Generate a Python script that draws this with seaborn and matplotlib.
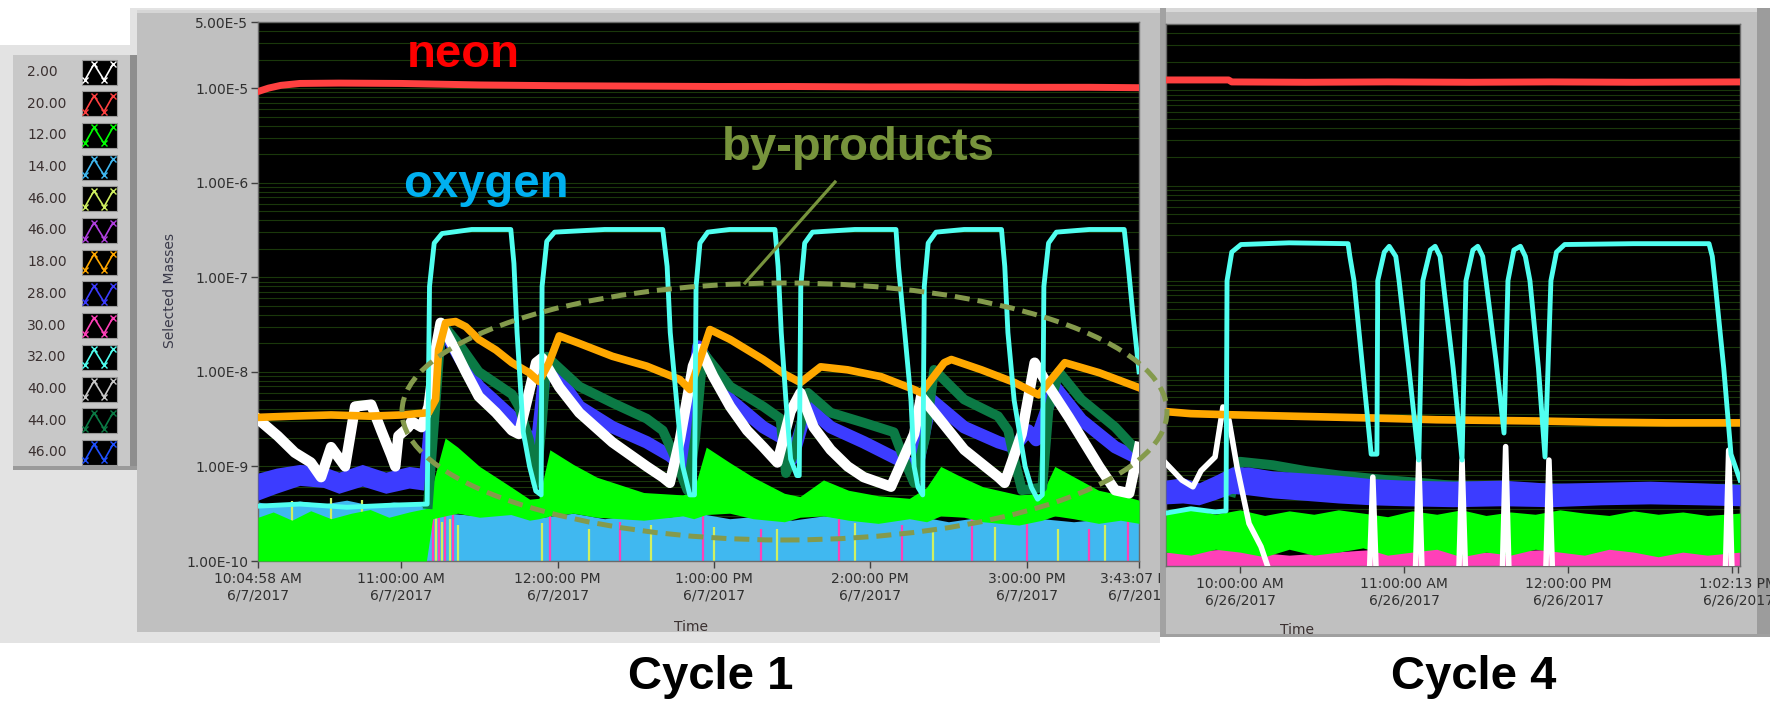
#recreates the LabVIEW mass-spec screenshot: cycle 1 vs cycle 4 traces

import matplotlib
matplotlib.use("Agg")
import matplotlib.pyplot as plt
from matplotlib.patches import Rectangle, Ellipse
from matplotlib.lines import Line2D
from matplotlib.ticker import LogLocator, NullFormatter
import seaborn as sns

#legend entries (mass numbers) and trace colours
legend_labels = ['2.00', '20.00', '12.00', '14.00', '46.00', '46.00', '18.00',
                 '28.00', '30.00', '32.00', '40.00', '44.00', '46.00']
legend_colors = ['#FFFFFF', '#FF4040', '#00FF00', '#40B8F0', '#D0F060', '#B040E0', '#FFA800',
                 '#3C3CFF', '#FF40B8', '#50FFF0', '#C8C8C8', '#0B7A45', '#2050FF']

#axis ticks
ytick_vals = [5e-5, 1e-5, 1e-6, 1e-7, 1e-8, 1e-9, 1e-10]
ytick_labels = ['5.00E-5', '1.00E-5', '1.00E-6', '1.00E-7', '1.00E-8', '1.00E-9', '1.00E-10']

c1_xlim = (10.0828, 15.7186)
c1_xticks = [10.0828, 11, 12, 13, 14, 15, 15.7186]
c1_xticklabels = ['10:04:58 AM\n6/7/2017', '11:00:00 AM\n6/7/2017', '12:00:00 PM\n6/7/2017',
                  '1:00:00 PM\n6/7/2017', '2:00:00 PM\n6/7/2017', '3:00:00 PM\n6/7/2017',
                  '3:43:07 PM\n6/7/2017']

c2_xlim = (9.5488, 13.049)
c2_xticks = [10, 11, 12, 13.0, 13.0369]
c2_xticklabels = ['10:00:00 AM\n6/26/2017', '11:00:00 AM\n6/26/2017', '12:00:00 PM\n6/26/2017',
                  '', '1:02:13 PM\n6/26/2017']

# ---------------- cycle 1 (6/7/2017), time in hours ----------------
c1_neon_t = [10.083, 10.15, 10.23, 10.35, 10.6, 11.0, 11.5, 12.0, 12.5, 13.0, 13.5, 14.0, 14.5, 15.0, 15.4, 15.719]
c1_neon = [9.2e-6, 1.0e-5, 1.07e-5, 1.12e-5, 1.13e-5, 1.12e-5, 1.08e-5, 1.06e-5, 1.05e-5, 1.04e-5,
           1.04e-5, 1.03e-5, 1.03e-5, 1.02e-5, 1.02e-5, 1.01e-5]

c1_cyan_t = [10.083, 10.35, 10.65, 10.95, 11.165, 11.18, 11.21, 11.26, 11.45, 11.70, 11.72, 11.74,
             11.78, 11.82, 11.86, 11.894, 11.90, 11.93, 11.98, 12.30, 12.672, 12.70, 12.72, 12.76,
             12.80, 12.845, 12.875, 12.885, 12.91, 12.96, 13.10, 13.39, 13.41, 13.43, 13.46, 13.49,
             13.53, 13.545, 13.555, 13.58, 13.63, 13.90, 14.164, 14.18, 14.22, 14.26, 14.28, 14.305,
             14.335, 14.345, 14.37, 14.42, 14.60, 14.839, 14.86, 14.88, 14.92, 14.99, 15.03, 15.07,
             15.10, 15.11, 15.14, 15.19, 15.40, 15.624, 15.65, 15.68, 15.719]
c1_cyan = [3.8e-10, 4.0e-10, 3.7e-10, 3.9e-10, 4.0e-10, 8e-8, 2.3e-7, 2.9e-7, 3.2e-7, 3.2e-7, 1.4e-7, 2.6e-8,
           2.3e-9, 1.0e-9, 5.5e-10, 5e-10, 8e-8, 2.4e-7, 3.0e-7, 3.2e-7, 3.2e-7, 1.3e-7, 2.6e-8, 5e-9,
           1.0e-9, 5e-10, 5e-10, 8e-8, 2.3e-7, 3.0e-7, 3.2e-7, 3.2e-7, 1.3e-7, 2.6e-8, 5e-9, 1.2e-9,
           8e-10, 8e-10, 8e-8, 2.3e-7, 3.0e-7, 3.2e-7, 3.2e-7, 1.3e-7, 2.6e-8, 5e-9, 1.0e-9, 6e-10,
           5e-10, 8e-8, 2.3e-7, 3.0e-7, 3.2e-7, 3.2e-7, 1.3e-7, 2.6e-8, 5e-9, 1.0e-9, 6e-10, 4.5e-10,
           5e-10, 8e-8, 2.3e-7, 3.0e-7, 3.2e-7, 3.2e-7, 1.3e-7, 4e-8, 1.0e-8]

c1_orange_t = [10.083, 10.3, 10.55, 10.8, 11.0, 11.174, 11.219, 11.238, 11.283, 11.347, 11.412, 11.495,
               11.605, 11.707, 11.817, 11.881, 11.945, 12.010, 12.138, 12.350, 12.569, 12.781, 12.846,
               12.910, 12.974, 13.103, 13.315, 13.45, 13.553, 13.682, 13.855, 14.068, 14.280, 14.325,
               14.473, 14.518, 14.711, 14.923, 15.077, 15.244, 15.463, 15.719]
c1_orange = [3.3e-9, 3.4e-9, 3.5e-9, 3.4e-9, 3.5e-9, 3.7e-9, 5.1e-9, 1.7e-8, 3.3e-8, 3.4e-8, 3.0e-8, 2.2e-8,
             1.7e-8, 1.25e-8, 9.8e-9, 7.9e-9, 1.25e-8, 2.4e-8, 2.0e-8, 1.46e-8, 1.15e-8, 8.3e-9, 6.5e-9,
             1.35e-8, 2.8e-8, 2.2e-8, 1.35e-8, 9.5e-9, 7.7e-9, 1.13e-8, 1.05e-8, 8.9e-9, 6.5e-9, 6.0e-9,
             1.25e-8, 1.35e-8, 1.05e-8, 7.7e-9, 5.7e-9, 1.25e-8, 9.8e-9, 6.8e-9]

c1_white_t = [10.089, 10.209, 10.318, 10.421, 10.486, 10.550, 10.640, 10.704, 10.807, 10.871, 10.936,
              10.961, 10.981, 11.045, 11.064, 11.129, 11.174, 11.219, 11.251, 11.322, 11.412, 11.495,
              11.605, 11.707, 11.752, 11.862, 11.900, 12.010, 12.138, 12.350, 12.569, 12.672, 12.717,
              12.781, 12.865, 12.910, 12.994, 13.103, 13.212, 13.315, 13.405, 13.489, 13.553, 13.637,
              13.746, 13.855, 13.958, 14.132, 14.280, 14.325, 14.434, 14.601, 14.820, 14.859, 14.968,
              15.051, 15.141, 15.270, 15.463, 15.566, 15.656, 15.719]
c1_white = [3.1e-9, 2.1e-9, 1.4e-9, 1.1e-9, 7.7e-10, 1.6e-9, 1.0e-9, 4.3e-9, 4.5e-9, 2.4e-9, 1.3e-9,
            1.0e-9, 2.1e-9, 2.6e-9, 3.0e-9, 2.6e-9, 4.3e-9, 1.7e-8, 3.3e-8, 2.0e-8, 1.0e-8, 5.5e-9,
            3.7e-9, 2.4e-9, 2.2e-9, 1.25e-8, 1.4e-8, 6.9e-9, 3.7e-9, 1.8e-9, 1.0e-9, 7.7e-10, 6.7e-10,
            1.9e-9, 1.15e-8, 1.75e-8, 9e-9, 4.3e-9, 2.4e-9, 1.6e-9, 1.1e-9, 3.8e-9, 6e-9, 2.6e-9,
            1.5e-9, 1.0e-9, 7.7e-10, 6.1e-10, 2.2e-9, 5.5e-9, 3.3e-9, 1.5e-9, 7.7e-10, 6.7e-10, 2.2e-9,
            1.25e-8, 7e-9, 3.3e-9, 1.0e-9, 5.6e-10, 5.2e-10, 1.6e-9]

c1_blue_t = [11.15, 11.17, 11.22, 11.257, 11.38, 11.495, 11.707, 11.80, 11.862, 11.926, 12.138, 12.35,
             12.569, 12.717, 12.80, 12.90, 13.103, 13.315, 13.46, 13.50, 13.598, 13.746, 13.958, 14.17,
             14.30, 14.389, 14.60, 14.82, 14.92, 15.01, 15.06, 15.18, 15.35, 15.566, 15.719]
c1_blue = [7e-10, 1.5e-9, 1.2e-8, 3.0e-8, 1.35e-8, 7e-9, 3.35e-9, 2.2e-9, 1.4e-9, 1.35e-8, 4.3e-9, 2.6e-9,
           1.8e-9, 1.3e-9, 1.0e-9, 1.85e-8, 5.1e-9, 2.6e-9, 1.9e-9, 1.2e-9, 4.3e-9, 2.6e-9, 1.8e-9, 1.2e-9,
           1.0e-9, 5.1e-9, 2.6e-9, 1.8e-9, 1.6e-9, 2.4e-9, 1.9e-9, 7e-9, 3.1e-9, 1.6e-9, 1.2e-9]

#blue noise band before the first cycle
c1_bluepre_t = [10.083, 10.2, 10.35, 10.5, 10.6, 10.75, 10.9, 11.05, 11.15]
c1_bluepre_hi = [8.5e-10, 9.6e-10, 1.05e-9, 1.0e-9, 8.7e-10, 1.05e-9, 8.7e-10, 1.0e-9, 9.5e-10]
c1_bluepre_lo = [4.4e-10, 5.2e-10, 6.3e-10, 6.0e-10, 5.2e-10, 6.2e-10, 5.2e-10, 5.9e-10, 5.6e-10]

c1_dgreen_t = [11.17, 11.22, 11.257, 11.38, 11.495, 11.707, 11.752, 11.817, 11.862, 11.90, 11.93, 12.138,
               12.35, 12.569, 12.672, 12.737, 12.83, 12.88, 12.929, 13.103, 13.315, 13.425, 13.46, 13.52,
               13.60, 13.746, 13.958, 14.15, 14.215, 14.28, 14.35, 14.408, 14.60, 14.817, 14.882, 14.92,
               14.97, 15.10, 15.14, 15.206, 15.35, 15.566, 15.656, 15.719]
c1_dgreen = [4e-10, 5e-9, 3.3e-8, 1.85e-8, 1.0e-8, 5.8e-9, 4.3e-9, 1.9e-9, 6.7e-10, 3e-9, 1.45e-8, 7e-9,
             4.7e-9, 3.2e-9, 2.4e-9, 1.4e-9, 5.6e-10, 2e-9, 1.6e-8, 7e-9, 4.3e-9, 3.2e-9, 8.5e-10, 1.5e-9,
             6e-9, 3.7e-9, 2.9e-9, 2.3e-9, 1.2e-9, 6.7e-10, 2e-9, 1.05e-8, 5.1e-9, 3.4e-9, 2.4e-9, 1.2e-9,
             5.6e-10, 6e-10, 4e-9, 1.0e-8, 5.1e-9, 2.6e-9, 1.8e-9, 1.4e-9]

#noise floor bands (lower / upper edge)
c1_lb_t = [10.083, 10.2, 10.35, 10.5, 10.65, 10.8, 10.95, 11.1, 11.17, 11.3, 11.5, 11.7, 11.9, 12.1, 12.3,
           12.5, 12.7, 12.9, 13.1, 13.3, 13.5, 13.7, 13.9, 14.1, 14.3, 14.5, 14.7, 14.9, 15.1, 15.3, 15.5, 15.719]
c1_lb_top = [4.2e-10, 3.9e-10, 4.3e-10, 4.0e-10, 4.4e-10, 3.9e-10, 4.2e-10, 4.0e-10, 3.6e-10, 3.2e-10,
             3.0e-10, 3.3e-10, 2.9e-10, 3.2e-10, 2.8e-10, 3.1e-10, 2.9e-10, 3.2e-10, 2.8e-10, 3.0e-10,
             2.7e-10, 3.0e-10, 2.8e-10, 2.7e-10, 3.0e-10, 2.6e-10, 2.9e-10, 2.7e-10, 2.8e-10, 2.6e-10,
             2.8e-10, 2.7e-10]

c1_green_t = [10.083, 10.18, 10.3, 10.42, 10.55, 10.68, 10.8, 10.92, 11.05, 11.16, 11.20, 11.28, 11.36,
              11.50, 11.70, 11.82, 11.88, 11.95, 12.10, 12.25, 12.55, 12.80, 12.87, 12.95, 13.10, 13.25,
              13.45, 13.55, 13.70, 13.86, 14.05, 14.25, 14.36, 14.45, 14.60, 14.72, 14.95, 15.10, 15.18,
              15.30, 15.46, 15.60, 15.719]
c1_green_lo = [1e-10, 1e-10, 1e-10, 1e-10, 1e-10, 1e-10, 1e-10, 1e-10, 1e-10, 1e-10, 2.8e-10, 3.0e-10,
               3.2e-10, 2.9e-10, 3.1e-10, 2.7e-10, 2.8e-10, 3.0e-10, 3.2e-10, 2.9e-10, 2.7e-10, 3.0e-10,
               2.8e-10, 3.1e-10, 3.2e-10, 2.8e-10, 2.6e-10, 2.9e-10, 3.0e-10, 2.7e-10, 2.5e-10, 2.8e-10,
               2.6e-10, 3.0e-10, 2.9e-10, 2.6e-10, 2.4e-10, 2.7e-10, 3.0e-10, 2.8e-10, 2.5e-10, 2.7e-10, 2.5e-10]
c1_green_hi = [2.9e-10, 3.3e-10, 2.7e-10, 3.4e-10, 2.8e-10, 3.2e-10, 3.5e-10, 2.9e-10, 3.3e-10, 3.6e-10,
               6.5e-10, 2.0e-9, 1.6e-9, 1.0e-9, 6.1e-10, 4.5e-10, 4.6e-10, 1.5e-9, 1.05e-9, 7.7e-10,
               5.3e-10, 5.0e-10, 5.5e-10, 1.6e-9, 1.1e-9, 7.7e-10, 5.2e-10, 4.8e-10, 7.2e-10, 5.6e-10,
               4.9e-10, 4.6e-10, 6.0e-10, 1.0e-9, 7.5e-10, 6.1e-10, 5.0e-10, 5.2e-10, 1.0e-9, 7.8e-10,
               5.6e-10, 5.0e-10, 4.4e-10]

#scattered specks near the floor
c1_pink_t = [11.20, 11.24, 11.28, 11.33, 11.95, 12.40, 12.93, 13.30, 13.80, 14.20, 14.65, 15.00, 15.40, 15.65]
c1_pink_top = [6.5e-10, 6.0e-10, 5.5e-10, 4.5e-10, 3.2e-10, 2.6e-10, 3.4e-10, 2.2e-10, 2.8e-10, 2.4e-10,
               3.0e-10, 2.5e-10, 2.2e-10, 2.7e-10]
c1_yellow_t = [10.3, 10.55, 10.75, 11.22, 11.26, 11.31, 11.36, 11.9, 12.2, 12.6, 13.0, 13.4, 13.9, 14.4,
               14.8, 15.2, 15.5]
c1_yellow_top = [4.3e-10, 4.6e-10, 4.4e-10, 3.0e-10, 2.6e-10, 2.8e-10, 2.4e-10, 2.5e-10, 2.2e-10, 2.4e-10,
                 2.3e-10, 2.2e-10, 2.5e-10, 2.1e-10, 2.3e-10, 2.2e-10, 2.4e-10]

# ---------------- cycle 4 (6/26/2017) ----------------
c2_neon_t = [9.549, 9.93, 9.95, 10.4, 10.9, 11.4, 11.9, 12.4, 13.049]
c2_neon = [1.29e-5, 1.29e-5, 1.23e-5, 1.22e-5, 1.23e-5, 1.22e-5, 1.23e-5, 1.22e-5, 1.23e-5]

c2_cyan_t = [9.549, 9.70, 9.85, 9.915, 9.921, 9.95, 10.006, 10.3, 10.659, 10.67, 10.695, 10.75, 10.80,
             10.835, 10.84, 10.88, 10.91, 10.95, 10.97, 11.03, 11.09, 11.115, 11.16, 11.19, 11.22, 11.238,
             11.30, 11.354, 11.378, 11.42, 11.45, 11.48, 11.50, 11.56, 11.61, 11.634, 11.67, 11.71, 11.74,
             11.768, 11.82, 11.86, 11.896, 11.93, 11.98, 12.4, 12.86, 12.88, 12.896, 12.95, 12.994, 13.049]
c2_cyan = [3.6e-10, 4.0e-10, 3.7e-10, 3.8e-10, 1e-7, 2.0e-7, 2.4e-7, 2.5e-7, 2.45e-7, 1.8e-7, 1e-7, 1.1e-8,
           1.5e-9, 1.5e-9, 1e-7, 2.0e-7, 2.3e-7, 1.8e-7, 1e-7, 1.2e-8, 1.3e-9, 1e-7, 2.1e-7, 2.3e-7, 1.8e-7,
           1e-7, 1.2e-8, 1.3e-9, 1e-7, 2.1e-7, 2.3e-7, 1.8e-7, 1e-7, 1.5e-8, 2.5e-9, 1e-7, 2.1e-7, 2.3e-7,
           1.8e-7, 1e-7, 1.2e-8, 1.4e-9, 1e-7, 2.0e-7, 2.4e-7, 2.45e-7, 2.45e-7, 1.8e-7, 1e-7, 1.2e-8,
           1.5e-9, 8e-10]

c2_orange_t = [9.549, 9.70, 9.92, 10.2, 10.5, 10.8, 11.2, 11.5, 11.8, 12.2, 12.6, 13.049]
c2_orange = [4.2e-9, 4.0e-9, 3.9e-9, 3.8e-9, 3.7e-9, 3.6e-9, 3.45e-9, 3.4e-9, 3.35e-9, 3.25e-9, 3.2e-9, 3.2e-9]

c2_white_t = [9.549, 9.646, 9.713, 9.762, 9.848, 9.896, 9.933, 9.982, 10.055, 10.128, 10.177, 10.5, 10.79,
              10.81, 10.83, 11.07, 11.09, 11.11, 11.335, 11.354, 11.375, 11.60, 11.62, 11.64, 11.865, 11.884,
              11.905, 12.96, 12.98, 13.00, 13.049]
c2_white = [1.2e-9, 8e-10, 6.8e-10, 1.0e-9, 1.4e-9, 4.7e-9, 3.4e-9, 1.1e-9, 2.8e-10, 1.6e-10, 9e-11, 9e-11,
            9e-11, 8.6e-10, 9e-11, 9e-11, 1.3e-9, 9e-11, 9e-11, 1.3e-9, 9e-11, 9e-11, 1.8e-9, 9e-11, 9e-11,
            1.3e-9, 9e-11, 9e-11, 1.65e-9, 9e-11, 9e-11]

c2_dgreen_t = [9.95, 10.0, 10.2, 10.4, 10.6, 10.9, 11.3, 12.0, 13.049]
c2_dgreen = [6e-10, 1.25e-9, 1.15e-9, 1.0e-9, 9e-10, 8e-10, 7e-10, 6.5e-10, 6.5e-10]

c2_blue_t = [9.549, 9.65, 9.75, 9.85, 9.95, 10.05, 10.2, 10.4, 10.6, 10.8, 11.0, 11.3, 11.6, 11.9, 12.2,
             12.5, 12.8, 13.049]
c2_blue_hi = [8.0e-10, 8.5e-10, 7.5e-10, 9.0e-10, 1.1e-9, 1.1e-9, 1.0e-9, 9.5e-10, 9.0e-10, 8.3e-10, 8.0e-10,
              7.8e-10, 8.0e-10, 7.4e-10, 7.6e-10, 7.8e-10, 7.5e-10, 7.2e-10]
c2_blue_lo = [4.5e-10, 4.6e-10, 4.4e-10, 5.0e-10, 5.8e-10, 5.6e-10, 5.2e-10, 4.9e-10, 4.6e-10, 4.4e-10, 4.3e-10,
              4.2e-10, 4.3e-10, 4.2e-10, 4.4e-10, 4.5e-10, 4.4e-10, 4.3e-10]

c2_green_t = [9.549, 9.7, 9.85, 10.0, 10.15, 10.3, 10.45, 10.6, 10.75, 10.9, 11.05, 11.2, 11.35, 11.5, 11.65,
              11.8, 11.95, 12.1, 12.25, 12.4, 12.55, 12.7, 12.85, 13.049]
c2_green_hi = [3.6e-10, 4.0e-10, 3.5e-10, 3.9e-10, 3.4e-10, 3.8e-10, 3.5e-10, 3.9e-10, 3.6e-10, 3.3e-10,
               3.8e-10, 3.5e-10, 3.9e-10, 3.4e-10, 3.7e-10, 3.5e-10, 3.9e-10, 3.6e-10, 3.4e-10, 3.8e-10,
               3.5e-10, 3.7e-10, 3.4e-10, 3.6e-10]
c2_green_lo = [1.4e-10, 1.3e-10, 1.5e-10, 1.4e-10, 1.25e-10, 1.5e-10, 1.3e-10, 1.4e-10, 1.55e-10, 1.3e-10,
               1.4e-10, 1.5e-10, 1.25e-10, 1.4e-10, 1.3e-10, 1.5e-10, 1.4e-10, 1.3e-10, 1.5e-10, 1.4e-10,
               1.25e-10, 1.4e-10, 1.3e-10, 1.4e-10]

c2_pink_t = [9.549, 9.9, 10.3, 10.7, 11.1, 11.5, 11.9, 12.3, 12.7, 13.049]
c2_pink_hi = [1.4e-10, 1.5e-10, 1.3e-10, 1.45e-10, 1.6e-10, 1.4e-10, 1.5e-10, 1.65e-10, 1.45e-10, 1.5e-10]

#figure size in pixels
W, H = 1770, 703

plt.rcParams['font.family'] = ['DejaVu Sans']

#pixel box (left, top, right, bottom) -> figure fraction rect
def box(x0, y0, x1, y1):
    return [x0 / W, 1 - y1 / H, (x1 - x0) / W, (y1 - y0) / H]

def add_rect(fig, x0, y0, x1, y1, color, z):
    l, b, w, h = box(x0, y0, x1, y1)
    fig.add_artist(Rectangle((l, b), w, h, transform=fig.transFigure,
                             facecolor=color, edgecolor='none', zorder=z))

#draws one trace with seaborn
def trace(ax, t, v, color, lw, z):
    sns.lineplot(x=t, y=v, ax=ax, color=color, linewidth=lw, estimator=None,
                 sort=False, zorder=z, solid_joinstyle='round')

#black LabVIEW-style graph area
def style_graph(ax, xlim, xticks, xlabels, show_y):
    ax.set_facecolor('black')
    ax.set_yscale('log')
    ax.set_ylim(1e-10, 5e-5)
    ax.set_xlim(*xlim)
    ax.set_yticks(ytick_vals)
    if show_y:
        ax.set_yticklabels(ytick_labels)
    else:
        ax.set_yticklabels([])
    ax.yaxis.set_minor_locator(LogLocator(base=10, subs=(2, 3, 4, 5, 6, 7, 8, 9), numticks=30))
    ax.yaxis.set_minor_formatter(NullFormatter())
    ax.set_xticks(xticks)
    ax.set_xticklabels(xlabels)
    ax.set_xlabel('')
    ax.set_ylabel('')
    ax.grid(True, axis='y', which='both', color='#1a380b', linewidth=0.8)
    ax.grid(False, axis='x')
    ax.set_axisbelow(True)
    ax.tick_params(axis='x', which='major', length=5, width=1, color='#404040',
                   labelsize=10, labelcolor='#303030', pad=3)
    ax.tick_params(axis='y', which='major', length=5 if show_y else 0, width=1, color='#404040',
                   labelsize=10, labelcolor='#303030', pad=2)
    ax.tick_params(axis='y', which='minor', length=0)
    for s in ax.spines.values():
        s.set_color('#6a6a6a')
        s.set_linewidth(1)


fig = plt.figure(figsize=(W / 100, H / 100), dpi=100)
fig.patch.set_facecolor('white')

#window chrome
add_rect(fig, 0, 45, 1160, 643, '#E3E3E3', 1)
add_rect(fig, 130, 8, 1160, 45, '#E3E3E3', 1)
add_rect(fig, 137, 10, 1160, 632, '#C0C0C0', 2)
add_rect(fig, 137, 10, 1160, 13, '#D6D6D6', 2.1)
add_rect(fig, 1160, 8, 1770, 637, '#C0C0C0', 6)
add_rect(fig, 1160, 8, 1757, 12, '#D8D8D8', 6.1)
add_rect(fig, 1160, 8, 1166, 637, '#A2A2A2', 6.1)
add_rect(fig, 1757, 8, 1770, 637, '#9C9C9C', 6.1)
add_rect(fig, 1160, 634, 1770, 637, '#A0A0A0', 6.1)

#legend panel
ax_leg = fig.add_axes(box(13, 55, 137, 470))
ax_leg.set_zorder(4)
ax_leg.set_xlim(0, 124)
ax_leg.set_ylim(415, 0)
ax_leg.set_axis_off()
ax_leg.add_patch(Rectangle((0, 0), 124, 415, facecolor='#C8C8C8', edgecolor='none'))
ax_leg.add_patch(Rectangle((117, 0), 7, 415, facecolor='#8E8E8E', edgecolor='none'))
ax_leg.add_patch(Rectangle((0, 411), 124, 4, facecolor='#9A9A9A', edgecolor='none'))
for i, (lab, col) in enumerate(zip(legend_labels, legend_colors)):
    yc = 17 + i * 31.7
    ax_leg.text(14, yc, lab, va='center', ha='left', fontsize=10, color='#3a3030')
    ax_leg.add_patch(Rectangle((69, yc - 12.5), 35, 25, facecolor='black', edgecolor='#9a9a9a', lw=0.8))
    ax_leg.plot([72, 81, 91, 100], [yc + 8, yc - 8, yc + 8, yc - 8], color=col, lw=1.2,
                marker='x', ms=4, mew=1)

# ---------------- cycle 1 graph ----------------
ax1 = fig.add_axes(box(258, 22, 1139, 561))
ax1.set_zorder(5)
ax1.set_yscale('log')
ax1.fill_between(c1_lb_t, 1e-10, c1_lb_top, color=legend_colors[3], lw=0, zorder=2)
ax1.vlines(c1_yellow_t, 1e-10, c1_yellow_top, colors=legend_colors[4], lw=1.6, zorder=2.2)
ax1.vlines(c1_pink_t, 1e-10, c1_pink_top, colors=legend_colors[8], lw=1.6, zorder=2.2)
ax1.fill_between(c1_green_t, c1_green_lo, c1_green_hi, color=legend_colors[2], lw=0, zorder=3)
ax1.fill_between(c1_bluepre_t, c1_bluepre_lo, c1_bluepre_hi, color=legend_colors[7], lw=0, zorder=4)
trace(ax1, c1_blue_t, c1_blue, legend_colors[7], 9, 4)
trace(ax1, c1_dgreen_t, c1_dgreen, legend_colors[11], 7, 4.5)
trace(ax1, c1_white_t, c1_white, legend_colors[0], 7.5, 5)
trace(ax1, c1_orange_t, c1_orange, legend_colors[6], 5.5, 6)
trace(ax1, c1_cyan_t, c1_cyan, legend_colors[9], 3.5, 7)
trace(ax1, c1_neon_t, c1_neon, legend_colors[1], 5, 8)
style_graph(ax1, c1_xlim, c1_xticks, c1_xticklabels, True)

# ---------------- cycle 4 graph ----------------
ax2 = fig.add_axes(box(1166, 24, 1740, 566))
ax2.set_zorder(7)
ax2.set_yscale('log')
ax2.fill_between(c2_pink_t, 1e-10, c2_pink_hi, color=legend_colors[8], lw=0, zorder=2)
ax2.fill_between(c2_green_t, c2_green_lo, c2_green_hi, color=legend_colors[2], lw=0, zorder=3)
trace(ax2, c2_dgreen_t, c2_dgreen, legend_colors[11], 7, 3.5)
ax2.fill_between(c2_blue_t, c2_blue_lo, c2_blue_hi, color=legend_colors[7], lw=0, zorder=4)
trace(ax2, c2_white_t, c2_white, legend_colors[0], 4, 5)
trace(ax2, c2_orange_t, c2_orange, legend_colors[6], 5.5, 6)
trace(ax2, c2_cyan_t, c2_cyan, legend_colors[9], 3.5, 7)
trace(ax2, c2_neon_t, c2_neon, legend_colors[1], 5, 8)
style_graph(ax2, c2_xlim, c2_xticks, c2_xticklabels, False)

#axis titles
fig.text(170 / W, 1 - 291 / H, 'Selected Masses', rotation=90, ha='center', va='center',
         fontsize=10, color='#3a3a4a', zorder=8)
fig.text(691 / W, 1 - 627 / H, 'Time', ha='center', va='center', fontsize=10, color='#3a3030', zorder=8)
fig.text(1297 / W, 1 - 630 / H, 'Time', ha='center', va='center', fontsize=10, color='#3a3030', zorder=8)

#call-outs
big = dict(fontsize=34, fontweight='bold', family=['Liberation Sans', 'DejaVu Sans'],
           ha='left', va='baseline', zorder=9)
fig.text(407 / W, 1 - 67 / H, 'neon', color='#FF0000', **big)
fig.text(403 / W, 1 - 197 / H, 'oxygen', color='#00B0F0', **big)
fig.text(722 / W, 1 - 160 / H, 'by-products', color='#77933C', **big)
fig.add_artist(Line2D([835 / W, 745 / W], [1 - 182 / H, 1 - 283 / H], transform=fig.transFigure,
                      color='#77933C', lw=2.3, zorder=9))
fig.add_artist(Ellipse((784.5 / W, 1 - 411.5 / H), width=765 / W, height=257 / H,
                       transform=fig.transFigure, fill=False, edgecolor='#849A4C', lw=3.6,
                       linestyle=(0, (3.0, 1.6)), zorder=9))

fig.text(711 / W, 1 - 677 / H, 'Cycle 1', ha='center', va='center', fontsize=34, fontweight='bold',
         family=['Liberation Sans', 'DejaVu Sans'], color='black', zorder=9)
fig.text(1474 / W, 1 - 677 / H, 'Cycle 4', ha='center', va='center', fontsize=34, fontweight='bold',
         family=['Liberation Sans', 'DejaVu Sans'], color='black', zorder=9)

fig.savefig('out.png', dpi=100)
